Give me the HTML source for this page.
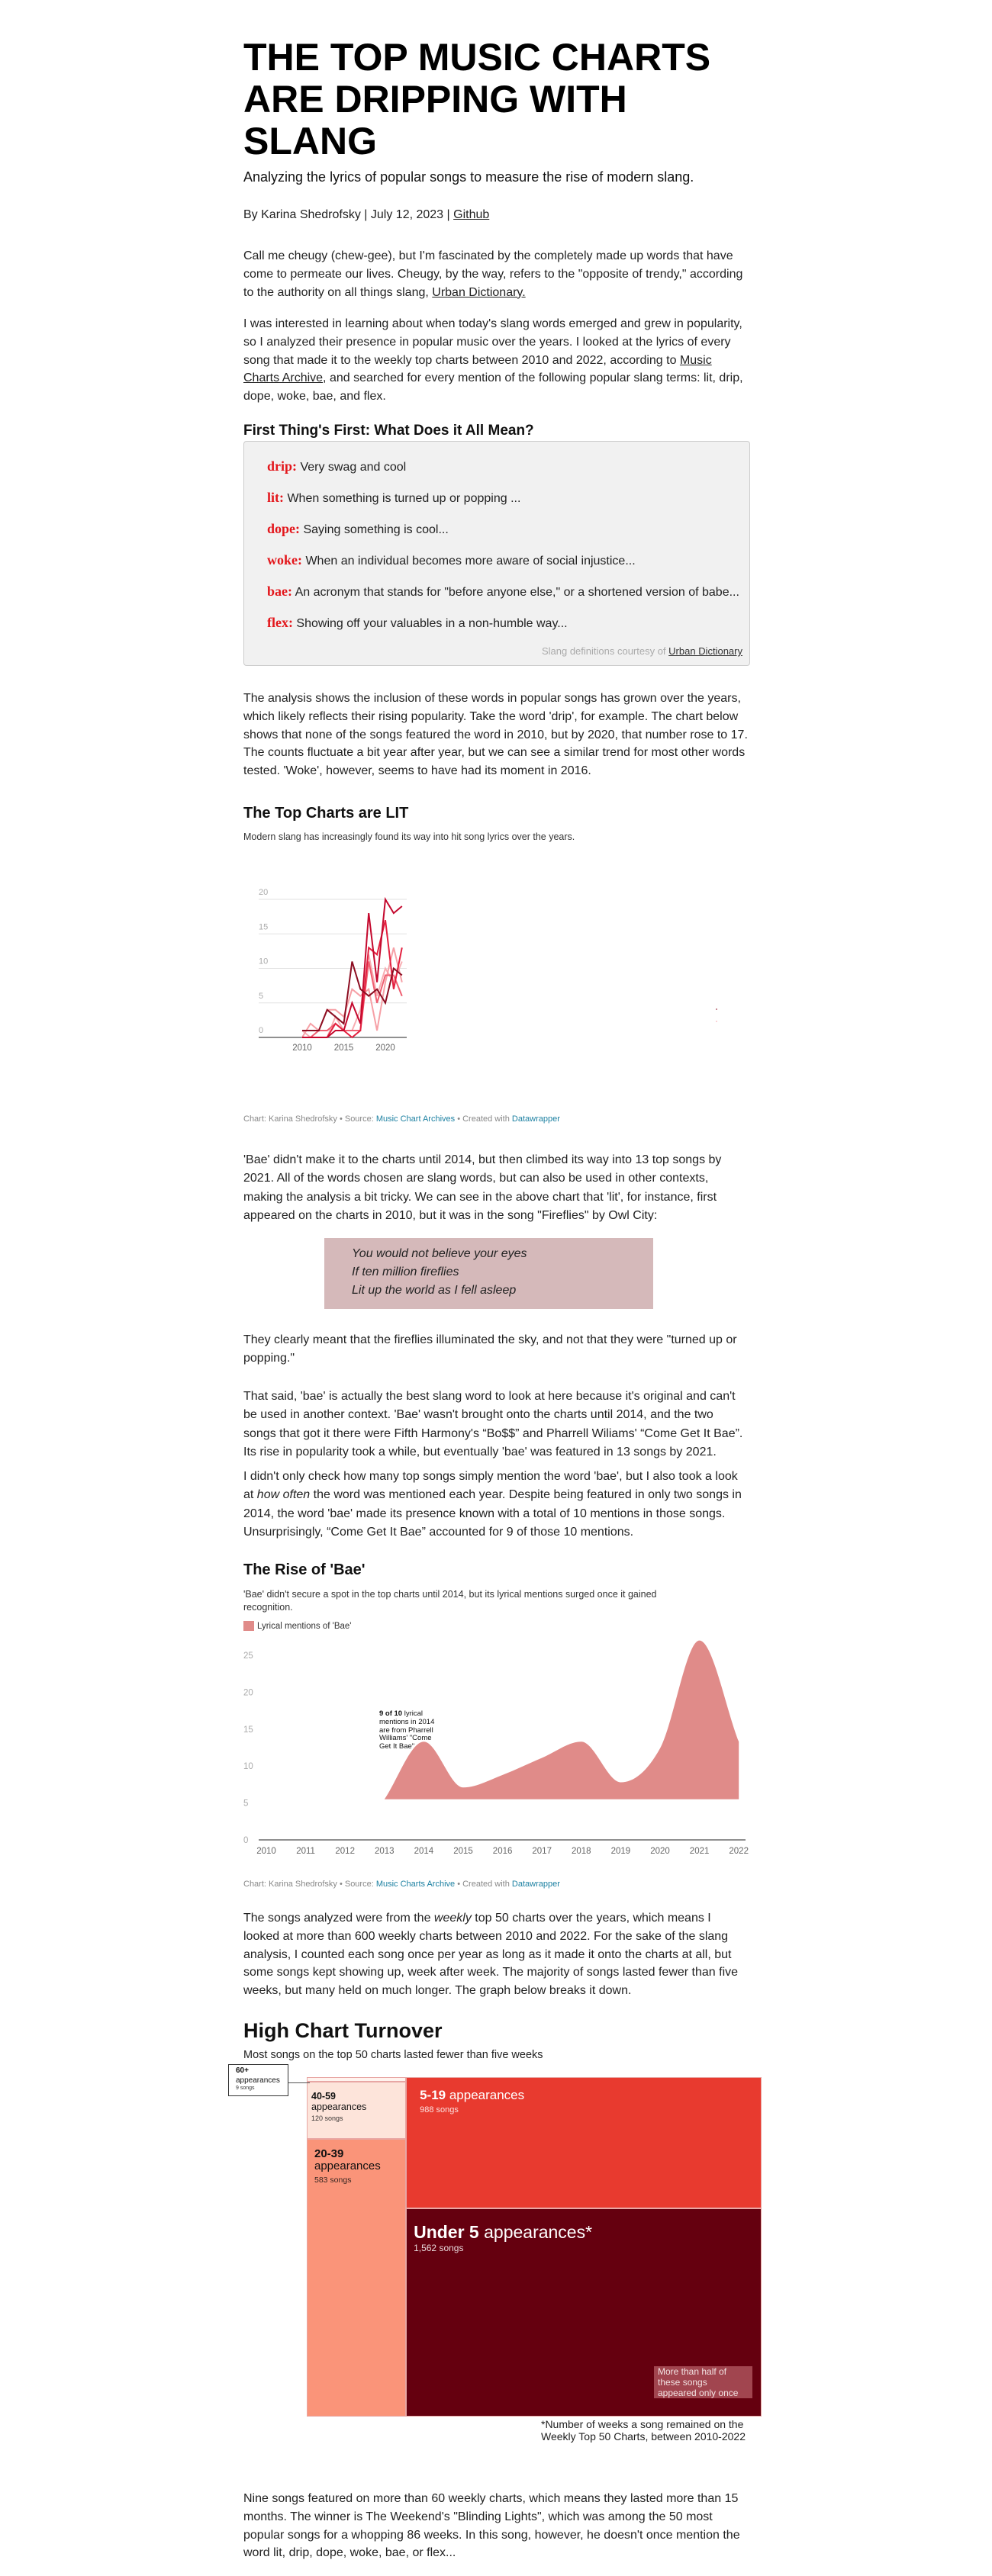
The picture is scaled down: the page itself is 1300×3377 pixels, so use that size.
<!DOCTYPE html>
<html><head><meta charset="utf-8">
<style>
*{margin:0;padding:0;box-sizing:border-box}
body{width:1300px;height:3377px;background:#fff;position:relative;font-family:"Liberation Sans",Arial,sans-serif;color:#111;overflow:hidden}
.a{position:absolute;white-space:nowrap}
.p{position:absolute;left:319px;font-size:16px;line-height:23.8px;color:#222;white-space:nowrap}
a{color:inherit}
.def{position:absolute;left:350px;font-size:16px;color:#222;white-space:nowrap;line-height:18px}
.term{font-family:"Liberation Serif",serif;color:#e3161b;font-size:18px;font-weight:bold}
.foot{font-size:11px;color:#888}
.foot a{color:#1d81a2;text-decoration:none}
.tm{position:absolute;border:1px solid #e8a7a4}
.tl{position:absolute;white-space:nowrap;line-height:1}
</style></head><body>

<div class="a" style="left:319px;top:48px;font-size:50px;font-weight:bold;line-height:55px;color:#000">THE TOP MUSIC CHARTS<br>ARE DRIPPING WITH<br>SLANG</div>
<div class="a" style="left:319px;top:223px;font-size:18px;line-height:18px;color:#111">Analyzing the lyrics of popular songs to measure the rise of modern slang.</div>
<div class="a" style="left:319px;top:274px;font-size:16px;line-height:16px;color:#222">By Karina Shedrofsky | July 12, 2023 | <a href="#">Github</a></div>

<div class="p" style="top:324px">Call me cheugy (chew-gee), but I'm fascinated by the completely made up words that have<br>come to permeate our lives. Cheugy, by the way, refers to the "opposite of trendy," according<br>to the authority on all things slang, <a href="#">Urban Dictionary.</a></div>
<div class="p" style="top:413px">I was interested in learning about when today's slang words emerged and grew in popularity,<br>so I analyzed their presence in popular music over the years. I looked at the lyrics of every<br>song that made it to the weekly top charts between 2010 and 2022, according to <a href="#">Music</a><br><a href="#">Charts Archive</a>, and searched for every mention of the following popular slang terms: lit, drip,<br>dope, woke, bae, and flex.</div>

<div class="a" style="left:319px;top:555px;font-size:19px;font-weight:bold;line-height:19px;color:#111">First Thing's First: What Does it All Mean?</div>
<div class="a" style="left:319px;top:578px;width:664px;height:295px;background:#f1f1f1;border:1px solid #ccc;border-radius:4px"></div>
<div class="def" style="top:602px"><span class="term">drip:</span> Very swag and cool</div>
<div class="def" style="top:643px"><span class="term">lit:</span> When something is turned up or popping ...</div>
<div class="def" style="top:684px"><span class="term">dope:</span> Saying something is cool...</div>
<div class="def" style="top:725px"><span class="term">woke:</span> When an individual becomes more aware of social injustice...</div>
<div class="def" style="top:766px"><span class="term">bae:</span> An acronym that stands for "before anyone else," or a shortened version of babe...</div>
<div class="def" style="top:807px"><span class="term">flex:</span> Showing off your valuables in a non-humble way...</div>
<div class="a" style="right:327px;top:847px;font-size:13px;line-height:13px;color:#aaa">Slang definitions courtesy of <a href="#" style="color:#333">Urban Dictionary</a></div>

<div class="p" style="top:904px">The analysis shows the inclusion of these words in popular songs has grown over the years,<br>which likely reflects their rising popularity. Take the word 'drip', for example. The chart below<br>shows that none of the songs featured the word in 2010, but by 2020, that number rose to 17.<br>The counts fluctuate a bit year after year, but we can see a similar trend for most other words<br>tested. 'Woke', however, seems to have had its moment in 2016.</div>

<div class="a" style="left:319px;top:1056px;font-size:20px;font-weight:bold;line-height:20px">The Top Charts are LIT</div>
<div class="a" style="left:319px;top:1091px;font-size:12.5px;line-height:13px;color:#333">Modern slang has increasingly found its way into hit song lyrics over the years.</div>
<svg id="lineChart" style="position:absolute;left:0;top:0" width="1300" height="1500"></svg>
<div class="a foot" style="left:319px;top:1461px">Chart: Karina Shedrofsky • Source: <a href="#">Music Chart Archives</a> • Created with <a href="#">Datawrapper</a></div>

<div class="p" style="top:1509px;line-height:24.3px">'Bae' didn't make it to the charts until 2014, but then climbed its way into 13 top songs by<br>2021. All of the words chosen are slang words, but can also be used in other contexts,<br>making the analysis a bit tricky. We can see in the above chart that 'lit', for instance, first<br>appeared on the charts in 2010, but it was in the song "Fireflies" by Owl City:</div>
<div class="a" style="left:425px;top:1623px;width:431px;height:93px;background:#d5b9ba"></div>
<div class="a" style="left:461px;top:1632px;font-size:16px;font-style:italic;line-height:24px;color:#222">You would not believe your eyes<br>If ten million fireflies<br>Lit up the world as I fell asleep</div>
<div class="p" style="top:1745px;line-height:24.3px">They clearly meant that the fireflies illuminated the sky, and not that they were "turned up or<br>popping."</div>
<div class="p" style="top:1819px;line-height:24.3px">That said, 'bae' is actually the best slang word to look at here because it's original and can't<br>be used in another context. 'Bae' wasn't brought onto the charts until 2014, and the two<br>songs that got it there were Fifth Harmony's “Bo$$” and Pharrell Wiliams' “Come Get It Bae”.<br>Its rise in popularity took a while, but eventually 'bae' was featured in 13 songs by 2021.</div>
<div class="p" style="top:1924px;line-height:24.3px">I didn't only check how many top songs simply mention the word 'bae', but I also took a look<br>at <i>how often</i> the word was mentioned each year. Despite being featured in only two songs in<br>2014, the word 'bae' made its presence known with a total of 10 mentions in those songs.<br>Unsurprisingly, “Come Get It Bae” accounted for 9 of those 10 mentions.</div>

<div class="a" style="left:319px;top:2048px;font-size:20px;font-weight:bold;line-height:20px">The Rise of 'Bae'</div>
<div class="a" style="left:319px;top:2082px;font-size:12.5px;line-height:17px;color:#333">'Bae' didn't secure a spot in the top charts until 2014, but its lyrical mentions surged once it gained<br>recognition.</div>
<div class="a" style="left:319px;top:2125px;width:14px;height:13px;background:#e08b89"></div>
<div class="a" style="left:337px;top:2126px;font-size:11.5px;line-height:12px;color:#333">Lyrical mentions of 'Bae'</div>
<svg id="areaChart" style="position:absolute;left:0;top:2140px" width="1300" height="310"></svg>
<div class="a" style="left:497px;top:2242px;font-size:9.5px;line-height:10.8px;color:#111"><b>9 of 10</b> lyrical<br>mentions in 2014<br>are from Pharrell<br>Williams' "Come<br>Get It Bae"</div>
<div class="a foot" style="left:319px;top:2464px">Chart: Karina Shedrofsky • Source: <a href="#">Music Charts Archive</a> • Created with <a href="#">Datawrapper</a></div>

<div class="p" style="top:2503px">The songs analyzed were from the <i>weekly</i> top 50 charts over the years, which means I<br>looked at more than 600 weekly charts between 2010 and 2022. For the sake of the slang<br>analysis, I counted each song once per year as long as it made it onto the charts at all, but<br>some songs kept showing up, week after week. The majority of songs lasted fewer than five<br>weeks, but many held on much longer. The graph below breaks it down.</div>

<div class="a" style="left:319px;top:2649px;font-size:27px;font-weight:bold;line-height:27px;color:#111">High Chart Turnover</div>
<div class="a" style="left:319px;top:2687px;font-size:14.5px;line-height:15px;color:#222">Most songs on the top 50 charts lasted fewer than five weeks</div>
<div id="treemap"></div>
<div class="a" style="left:299px;top:2706px;width:79px;height:42px;border:1px solid #333;background:#fff"></div>
<div class="a" style="left:378px;top:2730px;width:28px;height:1px;background:#555"></div>
<div class="tl" style="left:309px;top:2708px;font-size:10px;line-height:13px;color:#111"><b>60+</b><br>appearances</div>
<div class="tl" style="left:309px;top:2734px;font-size:7px;color:#333">9 songs</div>
<div class="a" style="left:857px;top:3102px;width:129px;height:42px;background:#a1454f"></div>
<div class="a" style="left:862px;top:3102px;font-size:12px;line-height:14px;color:#f2e2e2">More than half of<br>these songs<br>appeared only once</div>
<div class="a" style="left:709px;top:3170px;font-size:14px;line-height:16px;color:#222">*Number of weeks a song remained on the<br>Weekly Top 50 Charts, between 2010-2022</div>

<div class="p" style="top:3264px">Nine songs featured on more than 60 weekly charts, which means they lasted more than 15<br>months. The winner is The Weekend's "Blinding Lights", which was among the 50 most<br>popular songs for a whopping 86 weeks. In this song, however, he doesn't once mention the<br>word lit, drip, dope, woke, bae, or flex...</div>

<script>
// ---- Line chart data ----
const years = [2010,2011,2012,2013,2014,2015,2016,2017,2018,2019,2020,2021,2022];
const litValues  = [1,1,1,4,3,2,11,7,6,7,5,10,9];
const flexValues = [0,0,0,0,1,1,5,2,18,8,20,18,19];
const dripValues = [0,0,0,0,2,1,0,1,13,12,17,7,13];
const dopeValues = [0,0,1,1,2,1,1,1,11,5,9,9,6];
const baeValues  = [0,2,1,4,4,3,7,6,7,1,8,13,8];
const wokeValues = [1,0,0,0,3,1,1,4,12,6,10,8,11];
const yTicks = [0,5,10,15,20];
const xTicks = [2010,2015,2020];

// ---- Area chart data ----
const baeYears = [2013,2014,2015,2016,2017,2018,2019,2020,2021,2022];
const baeMentions = [5.5,13.3,7.1,8.8,11.1,13.3,7.8,12.4,27,13.3];
const areaYTicks = [0,5,10,15,20,25];
const areaXTicks = [2010,2011,2012,2013,2014,2015,2016,2017,2018,2019,2020,2021,2022];
const areaFloor = 5.5;

// ---- Treemap data ----
const bucketNames = ['60+','40-59','20-39','5-19','Under 5'];
const bucketCounts = [9,120,583,988,1562];

const NS='http://www.w3.org/2000/svg';
function mk(tag,attrs,parent){const e=document.createElementNS(NS,tag);for(const k in attrs)e.setAttribute(k,attrs[k]);parent.appendChild(e);return e;}

// Line chart
(function(){
  const svg=document.getElementById('lineChart');
  const x=v=>396+(v-2010)*10.9;
  const y=v=>1360-v*9.05;
  yTicks.forEach(t=>{
    if(t>0){const g=mk('line',{x1:339,x2:533,y1:y(t),y2:y(t),stroke:'#e2e2e2','stroke-width':1},svg);
    
    }
    const l=mk('text',{x:339,y:y(t)-6,'font-size':11,fill:'#aaa','font-family':'Liberation Sans'},svg);
    l.textContent=t;
    
    
  });
  const ax=mk('line',{x1:339,x2:533,y1:y(0),y2:y(0),stroke:'#222','stroke-width':1},svg);
  
  
  xTicks.forEach(t=>{
    const l=mk('text',{x:x(t),y:1377,'font-size':11.5,fill:'#666','text-anchor':'middle','font-family':'Liberation Sans'},svg);
    l.textContent=t;
    
    
  });
  const series=[[wokeValues,'#f8aeb3','woke'],[baeValues,'#f6a0a6','bae'],[dopeValues,'#ef5f71','dope'],[dripValues,'#e3203f','drip'],[flexValues,'#c4092e','flex'],[litValues,'#8c0d21','lit']];
  series.forEach(([vals,col,nm])=>{
    const d=vals.map((v,i)=>(i?'L':'M')+x(years[i]).toFixed(1)+','+y(v).toFixed(1)).join('');
    const p=mk('path',{d:d,fill:'none',stroke:col,'stroke-width':2,'stroke-linejoin':'miter'},svg);
    
    
  });
  const m1=mk('circle',{cx:939,cy:1323,r:0.8,fill:'#8c0d21'},svg);
  
  
  const m2=mk('circle',{cx:939,cy:1339,r:0.8,fill:'#f6a0a6'},svg);
  
  
})();

// Area chart (svg top offset 2140)
(function(){
  const svg=document.getElementById('areaChart');
  const O=2140;
  const x=v=>349+(v-2010)*51.6;
  const y=v=>2412-O-v*9.68;
  areaYTicks.forEach(t=>{
    const l=mk('text',{x:319,y:y(t)+4,'font-size':11.5,fill:'#aaa','font-family':'Liberation Sans'},svg);
    l.textContent=t;
    
    
  });
  areaXTicks.forEach(t=>{
    const l=mk('text',{x:x(t),y:2430-O,'font-size':11.5,fill:'#666','text-anchor':'middle','font-family':'Liberation Sans'},svg);
    l.textContent=t;
    
    
  });
  const px=baeYears.map(x), py=baeMentions.map(y), n=px.length;
  const dx=[],s=[];for(let i=0;i<n-1;i++){dx.push(px[i+1]-px[i]);s.push((py[i+1]-py[i])/dx[i]);}
  const m=[s[0]];for(let i=1;i<n-1;i++){m.push(s[i-1]*s[i]<=0?0:(s[i-1]+s[i])/2);}m.push(s[n-2]);
  for(let i=0;i<n-1;i++){if(s[i]===0){m[i]=0;m[i+1]=0;continue;}const a=m[i]/s[i],b=m[i+1]/s[i],h=a*a+b*b;if(h>9){const t=3/Math.sqrt(h);m[i]=t*a*s[i];m[i+1]=t*b*s[i];}}
  let d='M'+px[0]+','+y(areaFloor)+'L'+px[0]+','+py[0];
  for(let i=0;i<n-1;i++){const h=dx[i]/3;d+='C'+(px[i]+h)+','+(py[i]+m[i]*h)+' '+(px[i+1]-h)+','+(py[i+1]-m[i+1]*h)+' '+px[i+1]+','+py[i+1];}
  d+='L'+px[n-1]+','+y(areaFloor)+'Z';
  const a=mk('path',{d:d,fill:'#e08b89'},svg);
  
  
  const ax=mk('line',{x1:339,x2:977,y1:y(0),y2:y(0),stroke:'#222','stroke-width':1},svg);
  
  
})();

// Treemap
(function(){
  const root=document.getElementById('treemap');
  const X0=402,Y0=2723,W=596,H=445;
  const total=bucketCounts.reduce((a,b)=>a+b,0);
  const leftSum=bucketCounts[0]+bucketCounts[1]+bucketCounts[2];
  const lw=W*leftSum/total;
  const rightSum=bucketCounts[3]+bucketCounts[4];
  const h0=H*bucketCounts[0]/leftSum,h1=H*bucketCounts[1]/leftSum;
  const h3=H*bucketCounts[3]/rightSum;
  const rects=[
    [X0,Y0,lw,h0,'#fff3ee','bucket-60-plus'],
    [X0,Y0+h0,lw,h1,'#fde4da','bucket-40-59'],
    [X0,Y0+h0+h1,lw,H-h0-h1,'#fa9479','bucket-20-39'],
    [X0+lw,Y0,W-lw,h3,'#e83a2f','bucket-5-19'],
    [X0+lw,Y0+h3,W-lw,H-h3,'#65000f','bucket-under-5']
  ];
  rects.forEach(r=>{
    const d=document.createElement('div');
    d.className='tm';
    d.style.cssText+='left:'+r[0]+'px;top:'+r[1]+'px;width:'+r[2]+'px;height:'+r[3]+'px;background:'+r[4];
    
    
    root.appendChild(d);
  });
  const fmt=n=>n.toLocaleString('en-US');
  const labels=[
    [X0+6,Y0+h0+12,'#111',12.5,13,9,'<b>'+bucketNames[1]+'</b><br>appearances',fmt(bucketCounts[1])+' songs','label-40-59'],
    [X0+10,Y0+h0+h1+12,'#111',15,15,10.5,'<b>'+bucketNames[2]+'</b><br>appearances',fmt(bucketCounts[2])+' songs','label-20-39'],
    [X0+lw+18,Y0+16,'#fff',17,15,11,'<b>'+bucketNames[3]+'</b> appearances',fmt(bucketCounts[3])+' songs','label-5-19'],
    [X0+lw+10,Y0+h3+23,'#fff',23,15,12,'<b>'+bucketNames[4]+'</b> appearances*',fmt(bucketCounts[4])+' songs','label-under-5']
  ];
  labels.forEach(l=>{
    const d=document.createElement('div');
    d.className='tl';
    d.style.cssText+='left:'+l[0]+'px;top:'+l[1]+'px;color:'+l[2]+';font-size:'+l[3]+'px;line-height:'+(l[4]*1.1)+'px';
    d.innerHTML=l[6]+'<br><span style="font-size:'+l[5]+'px;line-height:'+(l[5]*1.1)+'px;display:inline-block;opacity:.85">'+l[7]+'</span>';
    
    
    root.appendChild(d);
  });
})();
</script>
</body></html>
